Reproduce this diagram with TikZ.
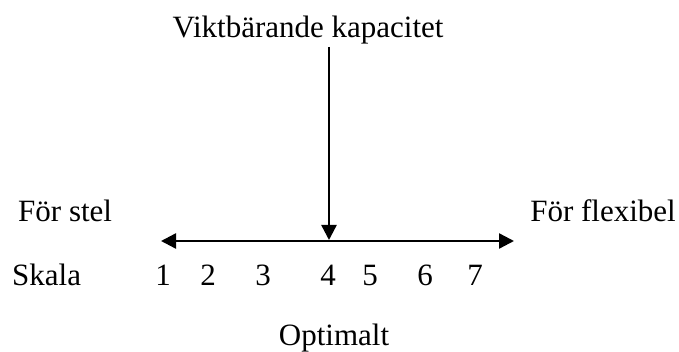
\documentclass[tikz,border=0pt]{standalone}
\usepackage{fontspec}
\setmainfont{Liberation Serif}
\usetikzlibrary{arrows.meta}
\begin{document}
\begin{tikzpicture}[x=1pt,y=-1pt,
  lbl/.style={inner sep=0pt,font=\fontsize{31}{36}\selectfont},
  arr/.style={line width=2.4pt,-{Triangle[length=15pt,width=15pt]}}]
\useasboundingbox (0,0) rectangle (679,352);
\node[lbl,anchor=base] (top) at (308,38) {Viktbärande kapacitet};
\node[lbl,anchor=base west] (stel) at (18,222) {För stel};
\node[lbl,anchor=base east] (flex) at (676,222) {För flexibel};
\node[lbl,anchor=base west] (skala) at (12,285) {Skala};
\node[lbl,anchor=base] (n1) at (163,285) {1};
\node[lbl,anchor=base] (n2) at (208,285) {2};
\node[lbl,anchor=base] (n3) at (263,285) {3};
\node[lbl,anchor=base] (n4) at (328,285) {4};
\node[lbl,anchor=base] (n5) at (370,285) {5};
\node[lbl,anchor=base] (n6) at (425,285) {6};
\node[lbl,anchor=base] (n7) at (475,285) {7};
\node[lbl,anchor=base] (opt) at (334,345) {Optimalt};
\coordinate (vs) at (329,47);
\coordinate (vt) at (329,240);
\coordinate (mid) at (349,241);
\coordinate (lt) at (161,241);
\coordinate (rt) at (514,241);
\draw[arr] (vs) -- (vt);
\draw[arr] (mid) -- (lt);
\draw[arr] (mid) -- (rt);
\end{tikzpicture}
\end{document}
